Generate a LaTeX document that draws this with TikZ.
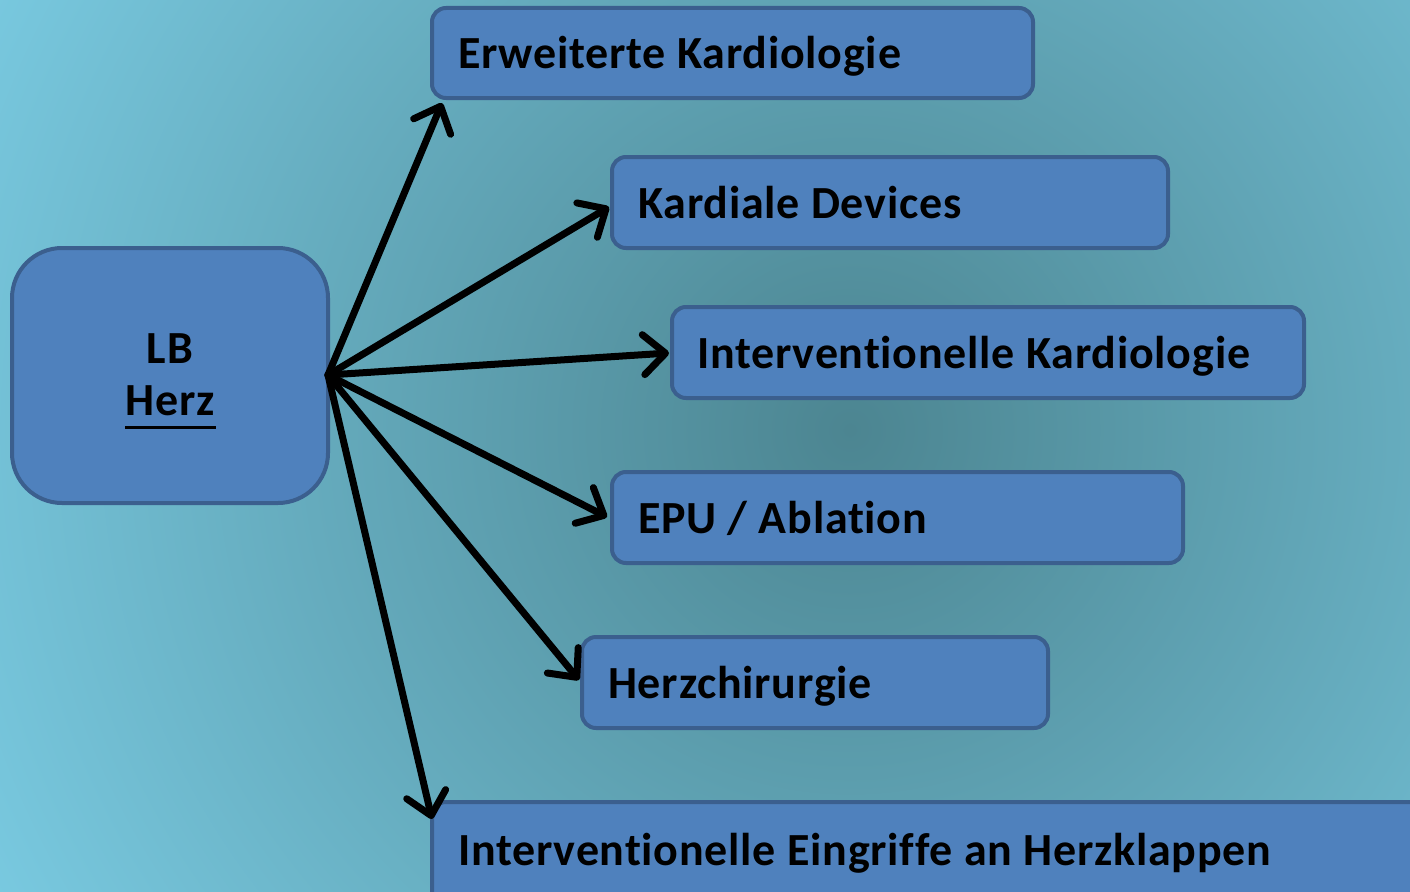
\documentclass[tikz,border=0pt]{standalone}
\usepackage{fontspec}
\setmainfont{Carlito}[LetterSpace=1.7, Ligatures=NoCommon]
\usetikzlibrary{arrows.meta}
\definecolor{boxfill}{HTML}{4F81BD}
\definecolor{boxline}{HTML}{3B5F8E}
\definecolor{bginner}{HTML}{4C8591}
\definecolor{bgouter}{HTML}{7ACBE2}
\tikzset{
  catbox/.style={draw=boxline, fill=boxfill, line width=4pt, rounded corners=14pt},
  catlabel/.style={anchor=base west, font=\fontsize{46}{54}\selectfont\bfseries, inner sep=0pt},
  srclabel/.style={anchor=base, font=\fontsize{46}{54}\selectfont\bfseries, inner sep=0pt},
  link/.style={line width=7pt, line cap=round, -{Straight Barb[length=22pt, width=40pt, line width=7pt, line cap=round, line join=round]}},
}
\begin{document}
\begin{tikzpicture}[x=1pt,y=-1pt]
\useasboundingbox (0,0) rectangle (1410,891);
\begin{scope}
\clip (0,0) rectangle (1410,891);
\shade[inner color=bginner, outer color=bgouter] (-150,-570) rectangle (1850,1430);
% boxes
\draw[catbox] (432,8) rectangle (1033,98);
\draw[catbox] (612,157) rectangle (1168,248);
\draw[catbox] (672,307) rectangle (1304,398);
\draw[catbox] (612,472) rectangle (1183,563);
\draw[catbox] (582,637) rectangle (1048,728);
\draw[catbox] (432,802) rectangle (1440,930);
\node[catlabel] (t1) at (458,68) {Erweiterte Kardiologie};
\node[catlabel] (t2) at (638,218) {Kardiale Devices};
\node[catlabel] (t3) at (697,368) {Interventionelle Kardiologie};
\node[catlabel] (t4) at (638,533) {EPU / Ablation};
\node[catlabel] (t5) at (608,698) {Herzchirurgie};
\node[catlabel] (t6) at (458,865) {Interventionelle Eingriffe an Herzklappen};
% arrow end points at the boxes
\coordinate (e1) at (442,103);
\coordinate (e2) at (609,207);
\coordinate (e3) at (669,353);
\coordinate (e4) at (607,517);
\coordinate (e5) at (579,680);
\coordinate (e6) at (432,819);
% source
\draw[catbox, rounded corners=50pt] (12,248) rectangle (328,503);
\node[srclabel] (lb) at (170,363) {LB};
\node[srclabel] (herz) at (170,415) {Herz};
\draw[line width=3pt] (herz.base west) ++(0,12) -- ++(91,0);
\coordinate (src) at (328,375);
\draw[link] (src) -- (e1);
\draw[link] (src) -- (e2);
\draw[link] (src) -- (e3);
\draw[link] (src) -- (e4);
\draw[link] (src) -- (e5);
\draw[link] (src) -- (e6);
\end{scope}
\end{tikzpicture}
\end{document}
